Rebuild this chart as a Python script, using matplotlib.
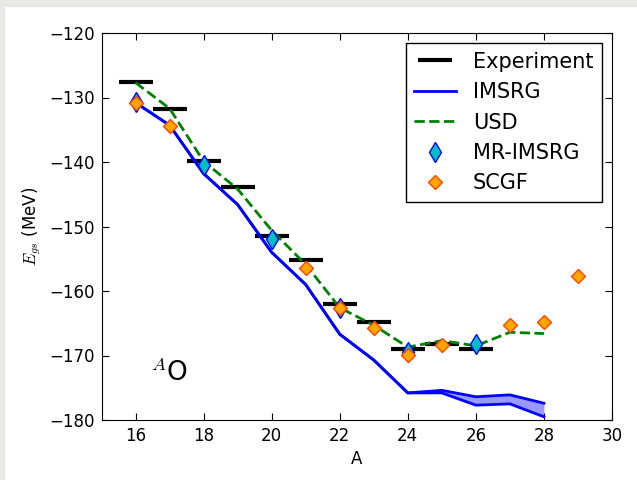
import numpy as np
import matplotlib
matplotlib.use("Agg")
import matplotlib.pyplot as plt
from matplotlib.patches import Rectangle

plt.rcParams['mathtext.fontset'] = 'cm'
plt.rcParams['font.family'] = ['DejaVu Sans']

# --- DATA (oxygen isotopes, ground-state energies in MeV) ---
A_exp = [16, 17, 18, 19, 20, 21, 22, 23, 24, 25, 26]
E_exp = [-127.6, -131.8, -139.8, -143.8, -151.4, -155.2, -162.0, -164.8, -169.0, -168.2, -169.0]

A_imsrg = [16, 17, 18, 19, 20, 21, 22, 23, 24, 25, 26, 27, 28]
E_imsrg_hi = [-130.8, -134.3, -141.8, -146.6, -154.0, -159.0, -166.7, -170.7, -175.8, -175.4, -176.4, -176.1, -177.4]
E_imsrg_lo = [-130.8, -134.3, -141.8, -146.6, -154.0, -159.0, -166.7, -170.7, -175.8, -175.8, -177.7, -177.5, -179.5]

A_usd = [16, 17, 18, 19, 20, 21, 22, 23, 24, 25, 26, 27, 28]
E_usd = [-127.7, -131.7, -139.9, -144.2, -150.6, -155.9, -162.6, -165.3, -168.7, -167.7, -168.5, -166.4, -166.6]

A_mr = [16, 18, 20, 22, 24, 26]
E_mr = [-130.7, -140.5, -152.0, -162.7, -169.5, -168.2]

A_scgf = [16, 17, 21, 22, 23, 24, 25, 27, 28, 29]
E_scgf = [-130.8, -134.4, -156.4, -162.7, -165.8, -169.9, -168.4, -165.2, -164.8, -157.6]

fig = plt.figure(figsize=(6.37, 4.8), dpi=100, facecolor='white')
# grey frame strips seen on the top and left edges of the reference
fig.patches.append(Rectangle((0, 1 - 6 / 480), 1, 6 / 480, transform=fig.transFigure,
                             color='#e8e8e4', zorder=-10))
fig.patches.append(Rectangle((0, 0), 4 / 637, 1, transform=fig.transFigure,
                             color='#e8e8e4', zorder=-10))

ax = fig.add_axes([101.5 / 637, 60 / 480, 510.5 / 637, 387 / 480])

ax.plot(A_exp, E_exp, '_', color='k', ms=24, mew=3, label='Experiment')
ax.fill_between(A_imsrg, E_imsrg_lo, E_imsrg_hi, color='b', alpha=0.4, lw=0)
ax.plot(A_imsrg, E_imsrg_hi, '-', color='b', lw=2, label='IMSRG')
ax.plot(A_imsrg, E_imsrg_lo, '-', color='b', lw=2)
ax.plot(A_usd, E_usd, '--', color='g', lw=2, label='USD')
ax.plot(A_mr, E_mr, 'd', color='c', mec='b', mew=1, ms=10, ls='none', label='MR-IMSRG')
ax.plot(A_scgf, E_scgf, 'D', color='orange', mec='orangered', mew=1, ms=7, ls='none', label='SCGF')

ax.text(16.42, -173.9, r'$^A$O', fontsize=19, va='baseline', ha='left')

ax.set_xlim(15, 30)
ax.set_ylim(-180, -120)
ax.set_xticks(np.arange(16, 31, 2))
ax.set_yticks(np.arange(-180, -119, 10))
ax.tick_params(direction='in', top=True, right=True, length=5, labelsize=12, pad=5)
ax.set_xlabel('A', fontsize=12)
ax.set_ylabel(r'$E_{gs}$ (MeV)', fontsize=12)

leg = ax.legend(loc='upper right', fontsize=15, numpoints=1, fancybox=False,
                framealpha=1, edgecolor='k', borderaxespad=0.5)
leg.get_frame().set_linewidth(1)

fig.savefig('out.png', dpi=100, facecolor=fig.get_facecolor())
